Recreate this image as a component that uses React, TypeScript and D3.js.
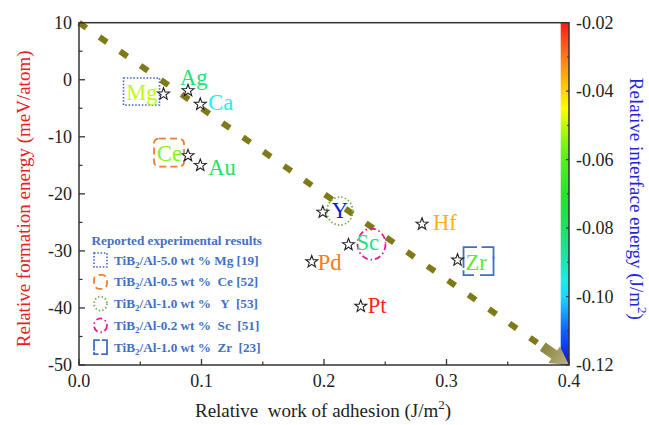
import React from "react";
import * as d3 from "d3";

// data
const elements = ["Mg", "Ag", "Ca", "Ce", "Au", "Y", "Sc", "Pd", "Hf", "Zr", "Pt"];
const workAdhesion = [0.069, 0.089, 0.099, 0.089, 0.099, 0.199, 0.22, 0.19, 0.28, 0.309, 0.23];
const formationEnergy = [-2.5, -1.9, -4.3, -13.3, -15.0, -23.2, -28.9, -31.9, -25.3, -31.6, -39.7];
const interfaceEnergy = [-0.05, -0.082, -0.097, -0.055, -0.08, -0.119, -0.084, -0.03, -0.036, -0.06, -0.021];

const xTicks = [0.0, 0.1, 0.2, 0.3, 0.4];
const yTicks = [10, 0, -10, -20, -30, -40, -50];
const cTicks = [-0.02, -0.04, -0.06, -0.08, -0.1, -0.12];
const trendFrom = [0, 10];
const trendTo = [0.4, -50];

const legendTitle = "Reported experimental results";
const legendRows = [
  { key: "Mg", text: "TiB|2|/Al-5.0 wt % Mg [19]" },
  { key: "Ce", text: "TiB|2|/Al-0.5 wt %  Ce [52]" },
  { key: "Y", text: "TiB|2|/Al-1.0 wt %   Y  [53]" },
  { key: "Sc", text: "TiB|2|/Al-0.2 wt %  Sc  [51]" },
  { key: "Zr", text: "TiB|2|/Al-1.0 wt %  Zr  [23]" },
];

const W = 649;
const H = 425;
const M = { left: 79, right: 569, top: 22.7, bottom: 365 };
const FONT = "Liberation Serif";
const fs = { fontFamily: FONT, whiteSpace: "pre" as const };

// label placement relative to the star (layout only)
const labelPos: Record<string, { dx: number; dy: number; anchor: string }> = {
  Mg: { dx: -6, dy: 6, anchor: "end" },
  Ag: { dx: -8, dy: -6, anchor: "start" },
  Ca: { dx: 8, dy: 6, anchor: "start" },
  Ce: { dx: -6, dy: 5, anchor: "end" },
  Au: { dx: 8, dy: 10, anchor: "start" },
  Y: { dx: 9, dy: 6, anchor: "start" },
  Sc: { dx: 8, dy: 5, anchor: "start" },
  Pd: { dx: 6, dy: 8, anchor: "start" },
  Hf: { dx: 11, dy: 6, anchor: "start" },
  Zr: { dx: 8, dy: 10, anchor: "start" },
  Pt: { dx: 7, dy: 7, anchor: "start" },
};

const markColor: Record<string, string> = {
  Mg: "#3a62c8",
  Ce: "#ee7d31",
  Y: "#6fb044",
  Sc: "#e8188c",
  Zr: "#3f70c6",
};

const jet = d3
  .scaleLinear<string>()
  .domain([-0.02, -0.03, -0.045, -0.058, -0.072, -0.088, -0.098, -0.11, -0.12])
  .range(["#ff1a1a", "#ff7a1a", "#ffff00", "#60f020", "#20e030", "#20e0a0", "#20f0ff", "#1060ff", "#1010e0"])
  .clamp(true);

const starPath = (r: number, ri: number) => {
  const pts: string[] = [];
  for (let i = 0; i < 10; i++) {
    const a = (Math.PI / 5) * i - Math.PI / 2;
    const rr = i % 2 === 0 ? r : ri;
    pts.push(`${(Math.cos(a) * rr).toFixed(2)},${(Math.sin(a) * rr).toFixed(2)}`);
  }
  return "M" + pts.join("L") + "Z";
};

// outline marks around labels
const Mark = ({ k, x, y, w, h }: { k: string; x: number; y: number; w: number; h: number }) => {
  const c = markColor[k];
  if (k === "Mg")
    return <rect x={x} y={y} width={w} height={h} fill="none" stroke={c} strokeWidth={1.6} strokeDasharray="1.5 1.8" />;
  if (k === "Ce")
    return <rect x={x} y={y} width={w} height={h} rx={5} fill="none" stroke={c} strokeWidth={1.8} strokeDasharray="7 4" />;
  if (k === "Y")
    return <ellipse cx={x + w / 2} cy={y + h / 2} rx={w / 2} ry={h / 2} fill="none" stroke={c} strokeWidth={1.8} strokeDasharray="1.4 2.2" />;
  if (k === "Sc")
    return (
      <ellipse cx={x + w / 2} cy={y + h / 2} rx={w / 2} ry={h / 2} fill="none" stroke={c} strokeWidth={1.8} strokeDasharray="6 3 1.5 3" />
    );
  // Zr: bracket corners
  const a = Math.min(w, h) * 0.42;
  return (
    <g fill="none" stroke={c} strokeWidth={1.8}>
      <path d={`M${x},${y + h * 0.75}V${y}H${x + w * 0.45}`} />
      <path d={`M${x + w * 0.6},${y}H${x + w}V${y + a}`} />
      <path d={`M${x + w},${y + h * 0.35}V${y + h}H${x + w * 0.55}`} />
      <path d={`M${x + w * 0.35},${y + h}H${x}V${y + h - a * 0.4}`} />
    </g>
  );
};

const Sub = ({ t }: { t: string }) => {
  const parts = t.split("|");
  return (
    <>
      {parts[0]}
      <tspan fontSize={9} dy={3}>
        {parts[1]}
      </tspan>
      <tspan dy={-3}>{parts[2]}</tspan>
    </>
  );
};

export default function App() {
  const x = d3.scaleLinear().domain([0, 0.4]).range([M.left, M.right]);
  const y = d3.scaleLinear().domain([-50, 10]).range([M.bottom, M.top]);
  const cb = d3.scaleLinear().domain([-0.12, -0.02]).range([M.bottom, M.top]);
  const cbLeft = 560.7;

  const star = starPath(6.3, 2.6);

  // trend arrow
  const x0 = x(trendFrom[0]);
  const y0 = y(trendFrom[1]);
  const x1 = x(trendTo[0]);
  const y1 = y(trendTo[1]);
  const len = Math.hypot(x1 - x0, y1 - y0);
  const ang = (Math.atan2(y1 - y0, x1 - x0) * 180) / Math.PI;
  const headLen = 18;
  const bodyLen = 14;

  const gradStops = d3.range(0, 1.0001, 0.05).map((t) => ({ t, c: jet(-0.02 - t * 0.1) }));

  const yMinor = d3.range(-45, 10, 10);
  const xMinor = d3.range(0.05, 0.4, 0.1);
  const cMinor = d3.range(-0.11, -0.02, 0.02);

  // boxes around some labels (relative to star position)
  const boxes: Record<string, [number, number, number, number]> = {
    Mg: [-40, -16, 36, 27],
    Ce: [-34, -17, 30, 28],
    Y: [4, -15, 26, 28],
    Sc: [9, -16, 28, 31],
    Zr: [6, -13, 30, 28],
  };

  return (
    <svg width={W} height={H} style={{ position: "absolute", left: 0, top: 0, background: "#fff" }}>
      <defs>
        <linearGradient id="cbar" x1="0" y1="0" x2="0" y2="1">
          {gradStops.map((s) => (
            <stop key={s.t} offset={`${s.t * 100}%`} stopColor={s.c} />
          ))}
        </linearGradient>
        <linearGradient id="head" x1="0" y1="0" x2="1" y2="0">
          <stop offset="0%" stopColor="#8a853c" />
          <stop offset="100%" stopColor="#b9b284" />
        </linearGradient>
      </defs>

      {/* colour bar */}
      <rect x={cbLeft} y={M.top} width={M.right - cbLeft} height={M.bottom - M.top} fill="url(#cbar)" />

      {/* trend arrow */}
      <line
        x1={x0}
        y1={y0}
        x2={x0 + ((x1 - x0) * (len - headLen - bodyLen + 2)) / len}
        y2={y0 + ((y1 - y0) * (len - headLen - bodyLen + 2)) / len}
        stroke="#7f7a18"
        strokeWidth={6}
        strokeDasharray="9 16"
      />
      <g transform={`translate(${x1},${y1}) rotate(${ang})`}>
        <path
          d={`M0,0L${-headLen},${-10}L${-headLen},${-5}L${-headLen - bodyLen},${-5}L${-headLen - bodyLen},5L${-headLen},5L${-headLen},10Z`}
          fill="url(#head)"
        />
      </g>

      {/* frame */}
      <rect x={M.left} y={M.top} width={M.right - M.left} height={M.bottom - M.top} fill="none" stroke="#333" strokeWidth={1.5} />

      {/* left axis */}
      {yTicks.map((v) => (
        <g key={v}>
          <line x1={M.left} x2={M.left + 6} y1={y(v)} y2={y(v)} stroke="#333" strokeWidth={1.3} />
          <text x={M.left - 7} y={y(v)} dy="0.35em" textAnchor="end" fontSize={18} fill="#222" style={fs}>
            {v}
          </text>
        </g>
      ))}
      {yMinor.map((v) => (
        <line key={v} x1={M.left} x2={M.left + 3.5} y1={y(v)} y2={y(v)} stroke="#333" strokeWidth={1.2} />
      ))}

      {/* bottom axis */}
      {xTicks.map((v) => (
        <g key={v}>
          <line x1={x(v)} x2={x(v)} y1={M.bottom} y2={M.bottom - 6} stroke="#333" strokeWidth={1.3} />
          <text x={x(v)} y={M.bottom + 22} textAnchor="middle" fontSize={18} fill="#222" style={fs}>
            {v.toFixed(1)}
          </text>
        </g>
      ))}
      {xMinor.map((v) => (
        <line key={v} x1={x(v)} x2={x(v)} y1={M.bottom} y2={M.bottom - 3.5} stroke="#333" strokeWidth={1.2} />
      ))}

      {/* colour bar axis */}
      {cTicks.map((v) => (
        <g key={v}>
          <line x1={M.right} x2={M.right - 3} y1={cb(v)} y2={cb(v)} stroke="#333" strokeWidth={1.2} />
          <text x={M.right + 7} y={cb(v)} dy="0.35em" fontSize={18} fill="#222" style={fs}>
            {v.toFixed(2)}
          </text>
        </g>
      ))}
      {cMinor.map((v) => (
        <line key={v} x1={M.right} x2={M.right - 2} y1={cb(v)} y2={cb(v)} stroke="#333" strokeWidth={1} />
      ))}

      {/* label marks */}
      {elements.map((el, i) => {
        const b = boxes[el];
        if (!b) return null;
        const px = x(workAdhesion[i]);
        const py = y(formationEnergy[i]);
        return <Mark key={el} k={el} x={px + b[0]} y={py + b[1]} w={b[2]} h={b[3]} />;
      })}

      {/* points */}
      {elements.map((el, i) => {
        const px = x(workAdhesion[i]);
        const py = y(formationEnergy[i]);
        const lp = labelPos[el];
        return (
          <g key={el}>
            <path d={star} transform={`translate(${px},${py})`} fill="#fff" stroke="#222" strokeWidth={1.1} />
            <text x={px + lp.dx} y={py + lp.dy} textAnchor={lp.anchor} fontSize={22.5} fill={jet(interfaceEnergy[i])} style={fs}>
              {el}
            </text>
          </g>
        );
      })}

      {/* legend */}
      <text x={91.5} y={245} fontSize={13.2} fontWeight="bold" fill="#4470c4" style={fs}>
        {legendTitle}
      </text>
      {legendRows.map((r, i) => {
        const cy = 260 + i * 21.8;
        return (
          <g key={r.key}>
            <Mark k={r.key} x={94} y={cy - 7} w={13} h={14} />
            <text x={114} y={cy + 4.5} fontSize={13.2} fontWeight="bold" fill="#4470c4" style={fs}>
              <Sub t={r.text} />
            </text>
          </g>
        );
      })}

      {/* axis titles */}
      <text x={323} y={417} textAnchor="middle" fontSize={19} fill="#222" style={fs}>
        {"Relative  work of adhesion (J/m"}
        <tspan fontSize={13} dy={-8}>
          2
        </tspan>
        <tspan dy={8}>)</tspan>
      </text>
      <text
        transform={`translate(23,${(M.top + M.bottom) / 2 + 5}) rotate(-90)`}
        textAnchor="middle"
        dy="0.35em"
        fontSize={19}
        fill="#e8201e"
        style={fs}
      >
        Relative formation energy (meV/atom)
      </text>
      <text
        transform={`translate(637,${(M.top + M.bottom) / 2 + 5}) rotate(90)`}
        textAnchor="middle"
        dy="0.35em"
        fontSize={19}
        fill="#2424d8"
        style={fs}
      >
        {"Relative interface energy (J/m"}
        <tspan fontSize={13} dy={-8}>
          2
        </tspan>
        <tspan dy={8}>)</tspan>
      </text>
    </svg>
  );
}
